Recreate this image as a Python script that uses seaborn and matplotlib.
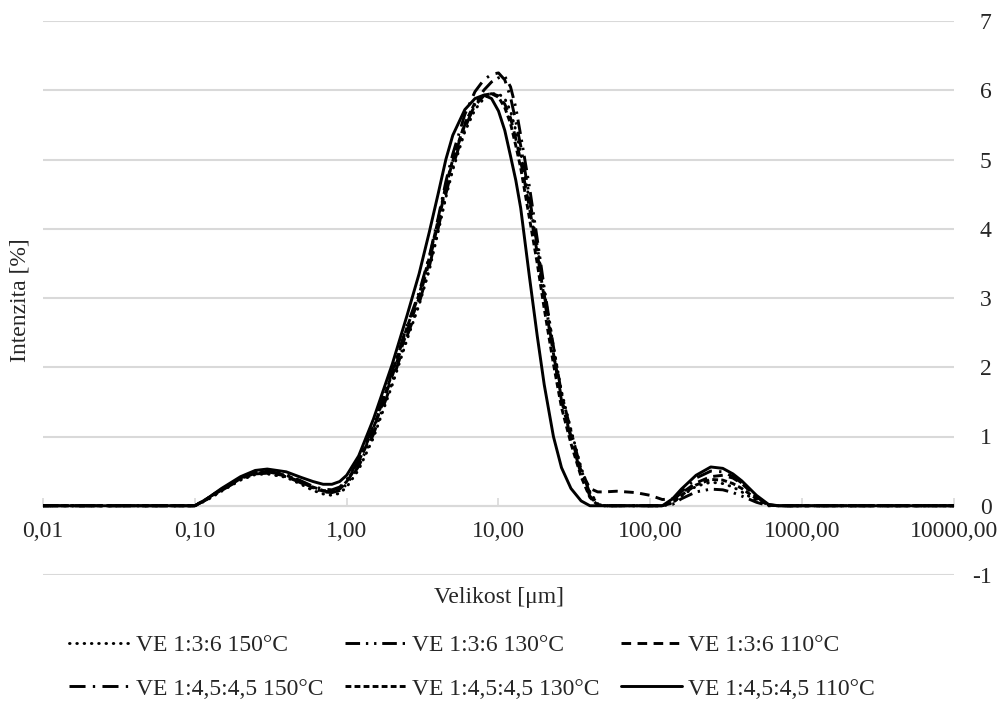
import numpy as np
import pandas as pd
import matplotlib
matplotlib.use("Agg")
import matplotlib.pyplot as plt
import seaborn as sns

# ---- data ----
size_um = [0.01, 0.1, 0.12, 0.15, 0.2, 0.25, 0.3, 0.4, 0.5, 0.6,
           0.7, 0.8, 0.9, 1.0, 1.2, 1.5, 2.0, 2.5, 3.0, 3.5,
           4.0, 4.5, 5.0, 6.0, 7.0, 8.0, 9.0, 10, 11, 12,
           13, 14, 16, 18, 20, 23, 26, 30, 35, 40,
           45, 50, 60, 80, 100, 120, 140, 160, 200, 250,
           300, 350, 400, 500, 600, 700, 1000, 10000]

ve136_150 = [0, 0, 0.08, 0.21, 0.37, 0.45, 0.46, 0.41, 0.31, 0.22,
             0.17, 0.15, 0.18, 0.27, 0.52, 0.98, 1.75, 2.4, 2.9, 3.4,
             3.95, 4.45, 4.85, 5.4, 5.72, 5.88, 5.95, 5.95, 5.88, 5.7,
             5.42, 5.1, 4.4, 3.75, 3.1, 2.3, 1.65, 1.1, 0.55, 0.2,
             0.03, 0, 0, 0, 0, 0, 0.04, 0.14, 0.28, 0.34,
             0.32, 0.27, 0.2, 0.07, 0.01, 0, 0, 0]
ve136_130 = [0, 0, 0.09, 0.22, 0.38, 0.46, 0.47, 0.42, 0.33, 0.25,
             0.2, 0.19, 0.22, 0.31, 0.57, 1.03, 1.8, 2.45, 2.92, 3.45,
             4.0, 4.5, 4.9, 5.45, 5.8, 6.0, 6.12, 6.18, 6.2, 6.05,
             5.75, 5.35, 4.6, 3.85, 3.15, 2.3, 1.62, 1.08, 0.52, 0.18,
             0.02, 0, 0, 0, 0, 0, 0.02, 0.1, 0.2, 0.24,
             0.23, 0.19, 0.14, 0.05, 0, 0, 0, 0]
ve136_110 = [0, 0, 0.09, 0.23, 0.39, 0.47, 0.48, 0.43, 0.34, 0.26,
             0.21, 0.2, 0.24, 0.34, 0.62, 1.1, 1.88, 2.52, 3.0, 3.52,
             4.08, 4.6, 4.98, 5.5, 5.78, 5.92, 5.95, 5.92, 5.8, 5.6,
             5.3, 4.98, 4.3, 3.65, 3.0, 2.2, 1.55, 1.0, 0.5, 0.25,
             0.2, 0.2, 0.21, 0.19, 0.15, 0.09, 0.1, 0.18, 0.33, 0.42,
             0.44, 0.4, 0.32, 0.13, 0.01, 0, 0, 0]
ve14545_150 = [0, 0, 0.1, 0.24, 0.4, 0.49, 0.5, 0.45, 0.36, 0.28,
               0.24, 0.23, 0.27, 0.37, 0.66, 1.15, 1.95, 2.6, 3.08, 3.6,
               4.15, 4.68, 5.08, 5.65, 5.98, 6.15, 6.23, 6.25, 6.15, 5.9,
               5.55, 5.2, 4.45, 3.75, 3.05, 2.2, 1.52, 0.98, 0.45, 0.14,
               0.01, 0, 0, 0, 0, 0, 0.06, 0.2, 0.4, 0.5,
               0.49, 0.42, 0.33, 0.13, 0.01, 0, 0, 0]
ve14545_130 = [0, 0, 0.1, 0.24, 0.4, 0.48, 0.49, 0.44, 0.35, 0.27,
               0.22, 0.21, 0.25, 0.35, 0.64, 1.12, 1.92, 2.58, 3.05, 3.58,
               4.12, 4.62, 5.0, 5.52, 5.82, 5.93, 5.95, 5.9, 5.75, 5.52,
               5.2, 4.88, 4.15, 3.5, 2.85, 2.05, 1.42, 0.9, 0.42, 0.12,
               0.01, 0, 0, 0, 0, 0, 0.04, 0.15, 0.3, 0.38,
               0.37, 0.32, 0.25, 0.1, 0.01, 0, 0, 0]
ve14545_110 = [0, 0, 0.10, 0.25, 0.42, 0.51, 0.53, 0.49, 0.41, 0.35,
               0.31, 0.31, 0.35, 0.44, 0.72, 1.25, 2.05, 2.75, 3.35, 3.95,
               4.5, 5.0, 5.35, 5.72, 5.88, 5.93, 5.88, 5.7, 5.42, 5.05,
               4.7, 4.3, 3.3, 2.45, 1.75, 1.0, 0.55, 0.25, 0.07, 0,
               0, 0, 0, 0, 0, 0, 0.1, 0.24, 0.44, 0.56,
               0.54, 0.46, 0.36, 0.15, 0.02, 0, 0, 0]

series_names = ["VE 1:3:6 150°C", "VE 1:3:6 130°C", "VE 1:3:6 110°C",
                "VE 1:4,5:4,5 150°C", "VE 1:4,5:4,5 130°C", "VE 1:4,5:4,5 110°C"]
series_values = [ve136_150, ve136_130, ve136_110,
                 ve14545_150, ve14545_130, ve14545_110]

x_ticks = [0.01, 0.1, 1, 10, 100, 1000, 10000]
x_tick_labels = ["0,01", "0,10", "1,00", "10,00", "100,00", "1000,00", "10000,00"]
y_ticks = [-1, 0, 1, 2, 3, 4, 5, 6, 7]
y_tick_labels = ["-1", "0", "1", "2", "3", "4", "5", "6", "7"]

# ---- styling ----
sns.set_style("white")
plt.rcParams["font.family"] = ["Liberation Serif", "DejaVu Serif"]
FS = 17
LW = 2.1

line_styles = {
    series_names[0]: dict(linestyle=(0, (0.2, 2.3)), dash_capstyle="round"),
    series_names[1]: dict(linestyle=(0, (5, 2, 0.8, 2, 0.8, 2))),
    series_names[2]: dict(linestyle=(0, (3.3, 2.2))),
    series_names[3]: dict(linestyle=(0, (5.5, 2.5, 0.8, 2.5))),
    series_names[4]: dict(linestyle=(0, (2.0, 1.1))),
    series_names[5]: dict(linestyle="-"),
}

fig = plt.figure(figsize=(10.06, 7.06), dpi=100)
ax = fig.add_axes([43 / 1006, 1 - 575 / 706, (954 - 43) / 1006, (575 - 21) / 706])

for name, vals in zip(series_names, series_values):
    df = pd.DataFrame({"size": size_um, "val": vals})
    sns.lineplot(data=df, x="size", y="val", ax=ax, color="black", lw=LW,
                 label=name, sort=False, errorbar=None, **line_styles[name])

ax.set_xscale("log")
ax.set_xlim(0.01, 10000)
ax.set_ylim(-1, 7)
ax.set_xticks(x_ticks)
ax.set_xticklabels(x_tick_labels)
ax.xaxis.set_minor_locator(matplotlib.ticker.NullLocator())
ax.set_yticks(y_ticks)
ax.set_yticklabels(y_tick_labels)
ax.yaxis.tick_right()
ax.yaxis.grid(True, color="#d9d9d9", lw=1.5)
ax.xaxis.grid(False)
ax.set_xlabel("")
ax.set_ylabel("")

for s in ["top", "left", "right"]:
    ax.spines[s].set_visible(False)
ax.spines["bottom"].set_position(("data", 0))
ax.spines["bottom"].set_color("#d9d9d9")
ax.spines["bottom"].set_linewidth(1.5)
ax.spines["bottom"].set_zorder(0.5)

ax.tick_params(axis="x", direction="in", length=6, width=1.2, color="#d9d9d9",
               labelsize=FS, pad=11, bottom=True)
ax.tick_params(axis="y", length=0, labelsize=FS, pad=27, right=True, left=False)
for lbl in ax.get_yticklabels():
    lbl.set_horizontalalignment("right")

fig.text(499 / 1006, 1 - 597 / 706, "Velikost [μm]", ha="center", va="center", fontsize=FS)
fig.text(20 / 1006, 1 - 300 / 706, "Intenzita [%]", ha="center", va="center",
         rotation=90, fontsize=FS)

handles, labels = ax.get_legend_handles_labels()
ax.get_legend().remove()
order = [0, 3, 1, 4, 2, 5]
fig.legend([handles[i] for i in order], [labels[i] for i in order],
           loc="center", bbox_to_anchor=(472 / 1006, 1 - 667 / 706), ncol=3,
           frameon=False, fontsize=FS, handlelength=2.6, handletextpad=0.25,
           columnspacing=0.9, labelspacing=0.95)

fig.savefig("out.png", dpi=100)
